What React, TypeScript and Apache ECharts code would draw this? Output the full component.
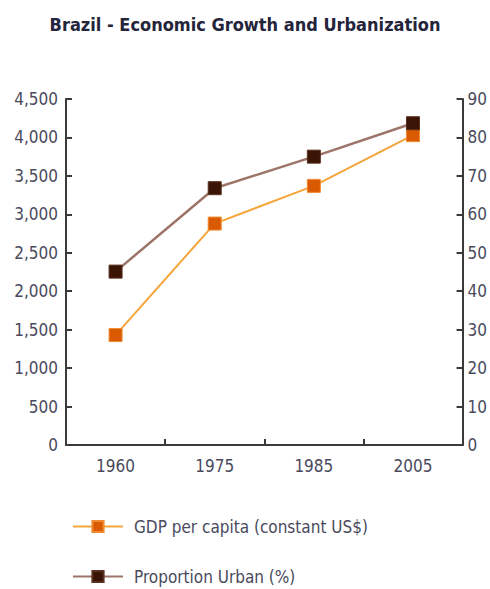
import React, { useEffect, useRef } from "react";
import * as echarts from "echarts";

const years = ["1960", "1975", "1985", "2005"];
const gdpPerCapita = [1430, 2880, 3370, 4030];
const proportionUrban = [45.1, 66.8, 75.0, 83.7];
const titleText = "Brazil - Economic Growth and Urbanization";
const gdpName = "GDP per capita (constant US$)";
const urbanName = "Proportion Urban (%)";

const FONT = "'DejaVu Sans Condensed', 'Liberation Sans Narrow', sans-serif";
const TXT = "#4a4a5c";
const AX = "#3a3a3a";
const FS = 17;

export default function App() {
  const ref = useRef<HTMLDivElement>(null);
  useEffect(() => {
    if (!ref.current) return;
    const chart = echarts.init(ref.current, undefined, { renderer: "svg" });
    const axisLine = { show: true, lineStyle: { color: AX, width: 2 } };
    const axisTick = { show: true, inside: true, length: 6, lineStyle: { color: AX, width: 2 } };
    chart.setOption({
      animation: false,
      backgroundColor: "#ffffff",
      title: {
        text: titleText,
        left: "center",
        top: 10,
        textStyle: { fontFamily: FONT, fontWeight: 900, fontSize: 18, color: "#24243a" },
      },
      grid: { left: 66, right: 27, top: 99, bottom: 144 },
      legend: {
        orient: "vertical",
        left: 72,
        top: 518,
        padding: 0,
        itemWidth: 50,
        itemHeight: 14,
        itemGap: 33,
        textStyle: { fontFamily: FONT, fontSize: FS, color: TXT, padding: [0, 0, 0, 6] },
        data: [gdpName, urbanName],
      },
      xAxis: {
        type: "category",
        data: years,
        boundaryGap: true,
        axisLine,
        axisTick,
        axisLabel: { fontFamily: FONT, fontSize: FS, color: TXT, margin: 12 },
      },
      yAxis: [
        {
          type: "value",
          min: 0,
          max: 4500,
          interval: 500,
          position: "left",
          splitLine: { show: false },
          axisLine,
          axisTick,
          axisLabel: {
            fontFamily: FONT,
            fontSize: FS,
            color: TXT,
            margin: 8,
            formatter: (v: number) => v.toLocaleString("en-US"),
          },
        },
        {
          type: "value",
          min: 0,
          max: 90,
          interval: 10,
          position: "right",
          splitLine: { show: false },
          axisLine,
          axisTick,
          axisLabel: { fontFamily: FONT, fontSize: FS, color: TXT, margin: 5 },
        },
      ],
      series: [
        {
          name: gdpName,
          type: "line",
          data: gdpPerCapita,
          yAxisIndex: 0,
          symbol: "rect",
          symbolSize: 13,
          lineStyle: { color: "#f5a53a", width: 2 },
          itemStyle: { color: "#d95a00", borderColor: "#f08a30", borderWidth: 1 },
        },
        {
          name: urbanName,
          type: "line",
          data: proportionUrban,
          yAxisIndex: 1,
          symbol: "rect",
          symbolSize: 13,
          lineStyle: { color: "#9c7468", width: 2.5 },
          itemStyle: { color: "#3a1404", borderColor: "#5a3020", borderWidth: 1 },
        },
      ],
    });
    return () => chart.dispose();
  }, []);
  return <div ref={ref} style={{ width: 490, height: 589, position: "absolute", left: 0, top: 0 }} />;
}
